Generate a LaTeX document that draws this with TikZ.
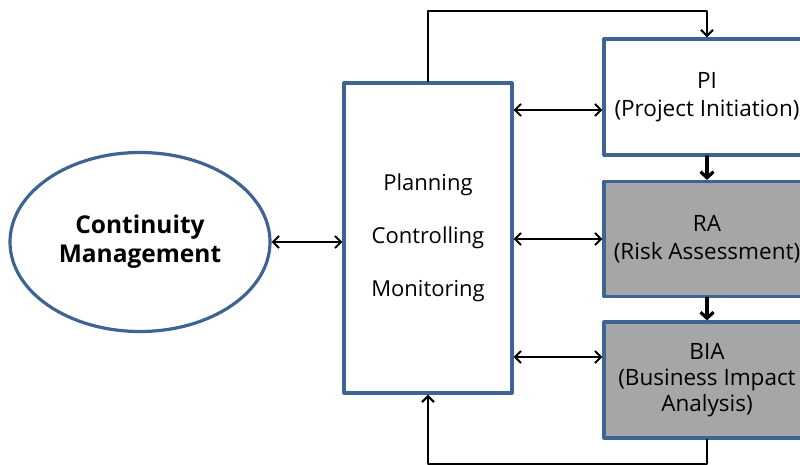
\documentclass[tikz,border=0pt]{standalone}
\usepackage{fontspec}
\setmainfont{Open Sans}
\usetikzlibrary{arrows.meta,shapes.geometric}
\definecolor{boxblue}{HTML}{3E6494}
\definecolor{boxgray}{HTML}{A6A6A6}
\tikzset{
	stagebox/.style={draw=boxblue,line width=3.2pt,rectangle,minimum width=206pt,align=center,font=\fontsize{22.5}{28}\selectfont},
	biarrow/.style={line width=2pt,{Straight Barb[length=6pt,width=12pt]}-{Straight Barb[length=6pt,width=12pt]}},
	flowarrow/.style={line width=3.2pt,-{Straight Barb[length=6pt,width=13pt]}},
	looparrow/.style={line width=2.2pt,-{Straight Barb[length=6pt,width=12pt]}}
}
\begin{document}
\begin{tikzpicture}[line cap=round,line join=round,x=1pt,y=-1pt]
		\clip (0,0) rectangle (800,465);
		\fill[white] (0,0) rectangle (800,465);
		\node[ellipse,draw=boxblue,line width=3.2pt,minimum width=260pt,minimum height=179pt,align=center,font={\fontsize{24.5}{29}\selectfont\bfseries}] (cm) at (140,242) {Continuity\\Management};
		\node[draw=boxblue,line width=3.2pt,rectangle,minimum width=168pt,minimum height=310pt,align=center,font=\fontsize{22}{53}\selectfont] (pcm) at (428,238) {Planning\\Controlling\\Monitoring};
		\node[stagebox,minimum height=116pt] (pi) at (707,97) {PI\\(Project Initiation)};
		\node[stagebox,fill=boxgray,minimum height=115pt] (ra) at (707,239) {RA\\(Risk Assessment)};
		\node[stagebox,fill=boxgray,minimum height=116pt,font=\fontsize{22.5}{26}\selectfont] (bia) at (707,380) {BIA\\(Business Impact\\Analysis)};
		\draw[biarrow] (cm.east) -- (cm.east -| pcm.west);
		\draw[biarrow] ([yshift=-13pt]pi.west -| pcm.east) -- ([yshift=-13pt]pi.west);
		\draw[biarrow] (ra.west -| pcm.east) -- (ra.west);
		\draw[biarrow] ([yshift=23pt]bia.west -| pcm.east) -- ([yshift=23pt]bia.west);
		\draw[flowarrow] (pi.south) -- (ra.north);
		\draw[flowarrow] (ra.south) -- (bia.north);
		\draw[looparrow] (pcm.north) -- ++(0,-70) -| (pi.north);
		\draw[looparrow] (bia.south) -- ++(0,24) -| (pcm.south);
\end{tikzpicture}
\end{document}
